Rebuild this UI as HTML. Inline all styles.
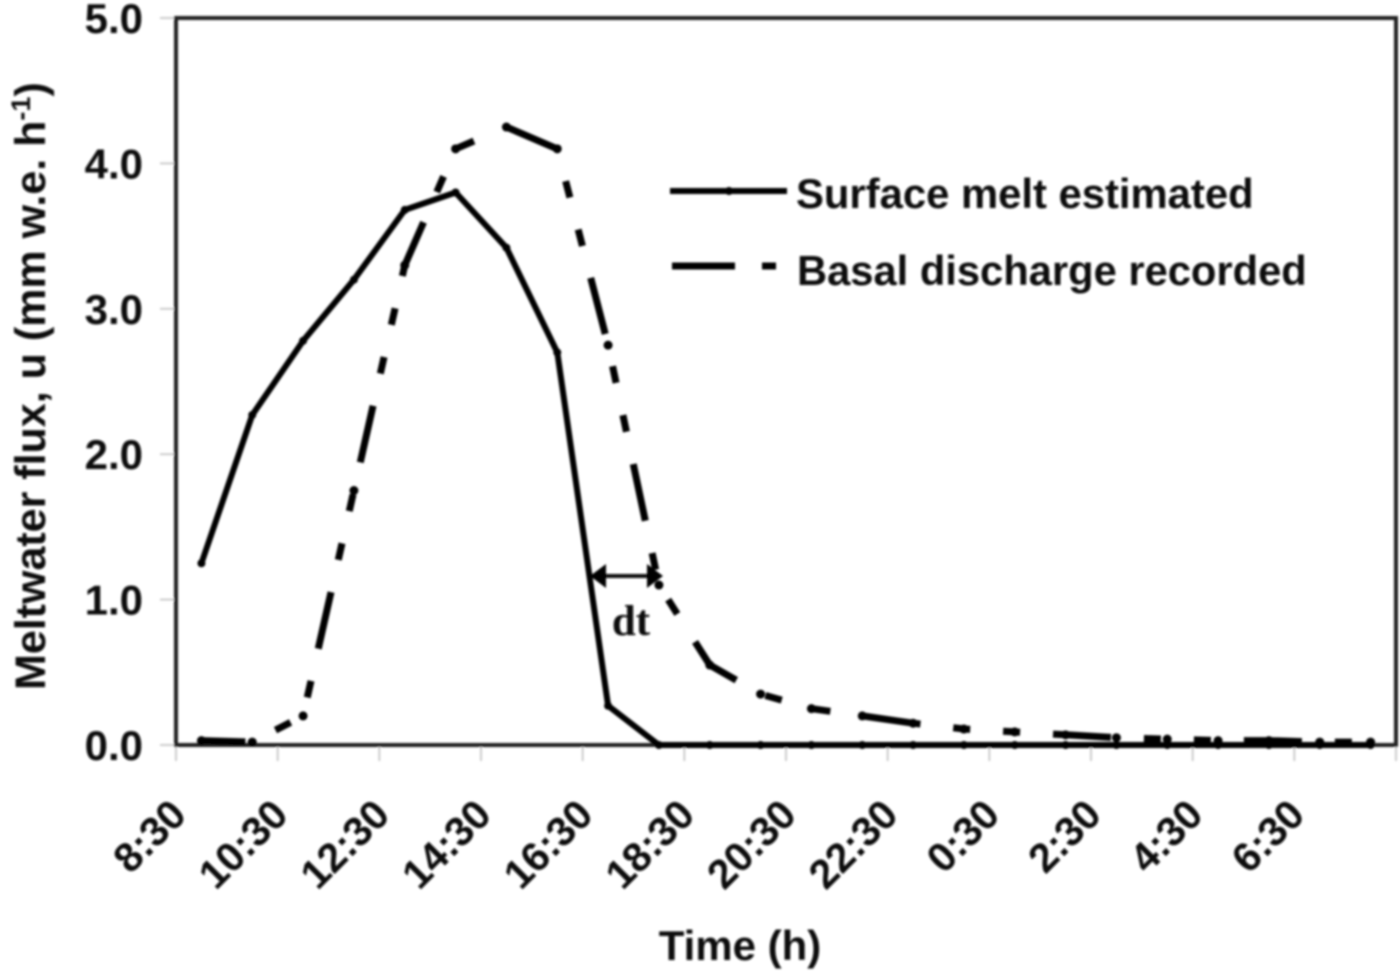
<!DOCTYPE html>
<html lang="en">
<head>
<meta charset="utf-8">
<title>Meltwater flux chart</title>
<style>
  html, body { margin: 0; padding: 0; background: #fff; }
  #chart { display: block; width: 1400px; height: 974px; }
  text { font-family: "Liberation Sans", sans-serif; font-weight: bold; fill: #111; }
</style>
</head>
<body>
<svg id="chart" xmlns="http://www.w3.org/2000/svg" width="1400" height="974" viewBox="0 0 1400 974">
  <defs>
    <filter id="soft" x="-5%" y="-5%" width="110%" height="110%"><feGaussianBlur stdDeviation="1.1"/></filter>
  </defs>
  <rect width="1400" height="974" fill="#ffffff"/>
  <g id="root" filter="url(#soft)">
    <g id="ticks"></g>
    <rect x="176" y="18" width="1220" height="727" fill="none" stroke="#222" stroke-width="4"/>
    <g id="ylabels"></g>
    <g id="xlabels"></g>
    <g id="series"></g>

    <text transform="translate(45,690) rotate(-90)" font-size="43">Meltwater flux, u (mm w.e. h<tspan font-size="27" dy="-15">-1</tspan><tspan dy="15">)</tspan></text>
    <text x="740" y="960" font-size="42" text-anchor="middle">Time (h)</text>

    <g>
      <line x1="670" y1="191" x2="787" y2="191" stroke="#000" stroke-width="6"/>
      <circle cx="729" cy="191" r="4" fill="#000"/>
      <text x="796" y="208" font-size="41.8">Surface melt estimated</text>
      <line x1="672" y1="266" x2="735" y2="266" stroke="#000" stroke-width="7"/>
      <line x1="762" y1="266" x2="776" y2="266" stroke="#000" stroke-width="7"/>
      <text x="797" y="285" font-size="41.7">Basal discharge recorded</text>
    </g>

    <g>
      <line x1="596" y1="576" x2="656" y2="576" stroke="#111" stroke-width="4"/>
      <polygon points="590,576 606,564 606,588" fill="#000"/>
      <polygon points="663,576 647,564 647,588" fill="#000"/>
      <text x="631" y="635" font-size="43" text-anchor="middle" style="font-family:'Liberation Serif',serif">dt</text>
    </g>
  </g>
</svg>
<script>
const categoryCount = 24;
const xTickLabels = ["8:30","10:30","12:30","14:30","16:30","18:30","20:30","22:30","0:30","2:30","4:30","6:30"];
const yTickLabels = ["0.0","1.0","2.0","3.0","4.0","5.0"];
const surfaceMelt = [1.25,2.27,2.78,3.2,3.68,3.8,3.42,2.7,0.27,0,0,0,0,0,0,0,0,0,0,0,0,0,0,0];
const basalDischarge = [0.03,0.02,0.2,1.75,3.3,4.1,4.25,4.1,2.75,1.1,0.55,0.35,0.25,0.2,0.15,0.11,0.09,0.07,0.05,0.04,0.03,0.03,0.02,0.02];

const NS = 'http://www.w3.org/2000/svg';
const plotLeft = 176, plotRight = 1396, plotTop = 18, plotBottom = 745, yMax = 5;
function xScale(i) { return plotLeft + (plotRight - plotLeft) * (i + 0.5) / categoryCount; }
function xEdge(i) { return plotLeft + (plotRight - plotLeft) * i / categoryCount; }
function yScale(v) { return plotBottom - (plotBottom - plotTop) * v / yMax; }
function make(tag, attrs, parent) {
  const el = document.createElementNS(NS, tag);
  for (const k in attrs) el.setAttribute(k, attrs[k]);
  parent.appendChild(el);
  return el;
}

const ticks = document.getElementById('ticks');
const ylabels = document.getElementById('ylabels');
const xlabels = document.getElementById('xlabels');
const series = document.getElementById('series');

yTickLabels.forEach(function (label) {
  const y = yScale(parseFloat(label));
  const t = make('line', { x1: 160, x2: 176, y1: y, y2: y, stroke: '#ccc', 'stroke-width': 2 }, ticks);
  
  
  const txt = make('text', { x: 143, y: y + 15, 'font-size': 42, 'text-anchor': 'end' }, ylabels);
  
  
  txt.textContent = label;
});

for (let i = 0; i <= xTickLabels.length; i++) {
  const x = xEdge(i * 2);
  const t = make('line', { x1: x, x2: x, y1: 745, y2: 761, stroke: '#ccc', 'stroke-width': 2 }, ticks);
  
  
}

xTickLabels.forEach(function (label, i) {
  const x = xScale(i * 2) - 13;
  const y = 817;
  const txt = make('text', { x: x, y: y, 'font-size': 41, 'text-anchor': 'end', transform: 'rotate(-45 ' + x + ' ' + y + ')' }, xlabels);
  
  
  txt.textContent = label;
});

function pathFor(values) {
  return values.map(function (v, i) { return (i ? 'L' : 'M') + xScale(i).toFixed(1) + ' ' + yScale(v).toFixed(1); }).join(' ');
}

const discharge = make('path', { d: pathFor(basalDischarge), fill: 'none', stroke: '#000', 'stroke-width': 7, 'stroke-dasharray': '58 33 17 33 17 33', 'stroke-dashoffset': 14 }, series);



const melt = make('path', { d: pathFor(surfaceMelt), fill: 'none', stroke: '#000', 'stroke-width': 6, 'stroke-linejoin': 'round' }, series);



surfaceMelt.forEach(function (v, i) {
  const c = make('circle', { cx: xScale(i), cy: yScale(v), r: 4, fill: '#000' }, series);
  
  
});

basalDischarge.forEach(function (v, i) {
  const c = make('circle', { cx: xScale(i), cy: yScale(v), r: 4.5, fill: '#000' }, series);
  
  
});
</script>
</body>
</html>
